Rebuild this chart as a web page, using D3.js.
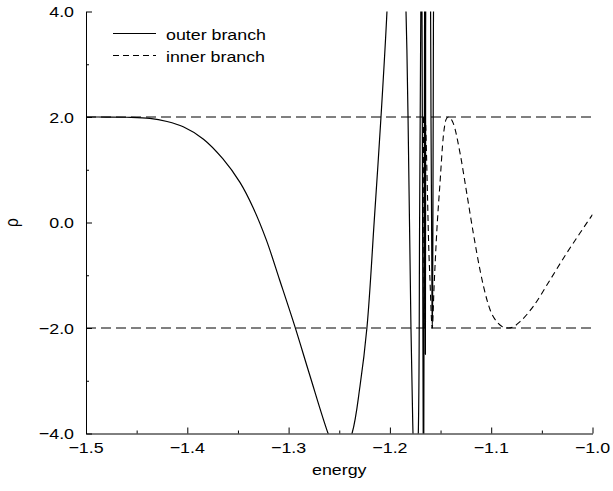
<!DOCTYPE html>
<html>
<head>
<meta charset="utf-8">
<script src="https://cdn.jsdelivr.net/npm/d3@7"></script>
<style>
  html, body { margin: 0; padding: 0; background: #fff; }
  svg { display: block; }
  text { font-family: "Liberation Sans", Arial, Helvetica, sans-serif; fill: #000; }
</style>
</head>
<body>
<svg id="chart" width="613" height="491"></svg>
<script>
// ---- data ----
const xTicks = [-1.5, -1.4, -1.3, -1.2, -1.1, -1.0];
const xMinorTicks = [-1.45, -1.35, -1.25, -1.15, -1.05];
const yTicks = [-4, -2, 0, 2, 4];
const yMinorTicks = [-3, -1, 1, 3];
const refLevels = [2, -2];
const seriesNames = ["outer branch", "inner branch"];
const xLabel = "energy";
const yLabel = "ρ";

// outer branch [energy, rho] (values beyond ±4 run off the plot)
const outerBranch = [
  [-1.500, 2.000], [-1.480, 1.999], [-1.460, 1.995], [-1.437, 1.975],
  [-1.420, 1.915], [-1.404, 1.815], [-1.384, 1.580], [-1.365, 1.210],
  [-1.348, 0.760], [-1.335, 0.280], [-1.322, -0.330], [-1.309, -1.080],
  [-1.294, -1.960], [-1.279, -2.900], [-1.261, -4.000], [-1.2495, -4.550],
  [-1.2374, -4.000], [-1.2295, -3.100], [-1.2226, -1.980], [-1.2154, 0.050],
  [-1.2088, 2.000], [-1.2029, 4.000], [-1.1979, 6.500], [-1.1930, 7.500],
  [-1.1881, 6.200], [-1.1841, 4.000], [-1.1821, 2.000], [-1.1792, -2.000],
  [-1.1772, -4.000], [-1.17473, -5.500], [-1.17196, -4.000], [-1.17068, 0.000],
  [-1.16949, 4.000], [-1.16890, 5.500], [-1.16831, 4.000], [-1.16772, 0.000],
  [-1.16713, -4.000], [-1.16683, -5.000], [-1.16654, -4.000], [-1.16614, 0.000],
  [-1.16575, 4.000], [-1.16555, 5.000], [-1.16535, 4.000], [-1.16515, 1.000],
  [-1.16496, -2.500], [-1.16476, 1.000], [-1.16456, 4.500], [-1.16239, 8.000],
  [-1.15982, 4.000], [-1.15943, 2.000], [-1.15884, 0.000], [-1.15844, -1.500],
  [-1.15815, -2.000], [-1.15785, -1.500], [-1.15755, 0.000], [-1.15726, 2.000],
  [-1.15696, 4.000], [-1.15597, 6.000]
];

// inner branch [energy, rho]
const innerBranch = [
  [-1.16683, 2.000], [-1.16614, -2.000], [-1.16535, 2.000], [-1.16476, 1.900],
  [-1.16387, 1.300], [-1.16288, 0.500], [-1.16190, -0.300], [-1.16012, -1.250],
  [-1.15893, -1.850], [-1.15814, -2.000], [-1.15647, -1.250], [-1.15380, -0.200],
  [-1.15054, 0.750], [-1.14728, 1.630], [-1.14462, 1.950], [-1.14235, 2.000],
  [-1.13741, 1.880], [-1.13080, 1.320], [-1.12418, 0.560], [-1.11767, -0.200],
  [-1.11106, -0.900], [-1.10444, -1.450], [-1.10118, -1.650], [-1.09457, -1.880],
  [-1.08934, -1.970], [-1.08312, -2.000], [-1.07750, -1.970], [-1.07157, -1.880],
  [-1.05844, -1.590], [-1.04195, -1.090], [-1.02547, -0.580], [-1.01234, -0.200],
  [-1.00000, 0.150]
];

// ---- layout ----
const svg = d3.select("#chart");
const padL = 86, padR = 592.5, padT = 11.5, padB = 433.5;
const x = d3.scaleLinear().domain([-1.5, -1.0]).range([padL, padR]);
const y = d3.scaleLinear().domain([-4, 4]).range([padB, padT]);
const FS = 15.5, SX = 1.15;

function stretchedText(g, tx, ty, str, anchor, rot) {
  return g.append("text")
    .attr("transform", `translate(${tx},${ty}) scale(${SX},1)` + (rot ? ` rotate(${rot})` : ""))
    .attr("text-anchor", anchor)
    .attr("font-size", FS)
    .text(str);
}

svg.append("defs").append("clipPath").attr("id", "plotclip")
  .append("rect").attr("x", padL).attr("y", padT)
  .attr("width", padR - padL).attr("height", padB - padT);

// reference lines
svg.append("g").selectAll("line").data(refLevels).join("line")
  .attr("x1", x(-1.5)).attr("x2", x(-1.0))
  .attr("y1", d => y(d)).attr("y2", d => y(d))
  .attr("stroke", "#000").attr("stroke-width", 1)
  .attr("stroke-dasharray", "10,5");

// curves
const innerLine = d3.line().x(d => x(d[0])).y(d => y(d[1])).curve(d3.curveMonotoneX);
const outerLine = d3.line().x(d => x(d[0])).y(d => y(d[1])).curve(d3.curveCatmullRom.alpha(0.5));
const plot = svg.append("g").attr("clip-path", "url(#plotclip)");
plot.append("path").datum(innerBranch).attr("d", innerLine)
  .attr("fill", "none").attr("stroke", "#000").attr("stroke-width", 1.1)
  .attr("stroke-dasharray", "6,4");
plot.append("path").datum(outerBranch).attr("d", outerLine)
  .attr("fill", "none").attr("stroke", "#000").attr("stroke-width", 1.2);

// axes
const fmt = d3.format(".1f");
const xAxis = svg.append("g").attr("transform", `translate(0,${padB})`);
xAxis.call(d3.axisBottom(x).tickValues(xTicks).tickSize(-6).tickSizeOuter(0).tickFormat(""));
xAxis.append("g").call(d3.axisBottom(x).tickValues(xMinorTicks).tickSize(-3).tickSizeOuter(0).tickFormat(""))
  .select(".domain").remove();
const yAxis = svg.append("g").attr("transform", `translate(${padL},0)`);
yAxis.call(d3.axisLeft(y).tickValues(yTicks).tickSize(-6).tickSizeOuter(0).tickFormat(""));
yAxis.append("g").call(d3.axisLeft(y).tickValues(yMinorTicks).tickSize(-3).tickSizeOuter(0).tickFormat(""))
  .select(".domain").remove();
svg.selectAll(".domain, .tick line").attr("stroke", "#000").attr("stroke-width", 1);

// tick labels
const labels = svg.append("g");
xTicks.forEach(v => stretchedText(labels, x(v), 452.5, fmt(v), "middle"));
yTicks.forEach(v => stretchedText(labels, 74, y(v) + 5.6, fmt(v), "end"));

// axis titles
stretchedText(labels, (padL + padR) / 2, 475, xLabel, "middle");
stretchedText(labels, 18, y(0), yLabel, "middle", -90);

// legend
const legend = svg.append("g");
const legendRows = [{yy: 33.5, dash: null}, {yy: 55.5, dash: "6,4"}];
legendRows.forEach((r, i) => {
  legend.append("line").attr("x1", 113).attr("x2", 156)
    .attr("y1", r.yy).attr("y2", r.yy)
    .attr("stroke", "#000").attr("stroke-width", 1.1)
    .attr("stroke-dasharray", r.dash);
  stretchedText(legend, 166, r.yy + 6.5, seriesNames[i], "start");
});
</script>
</body>
</html>
